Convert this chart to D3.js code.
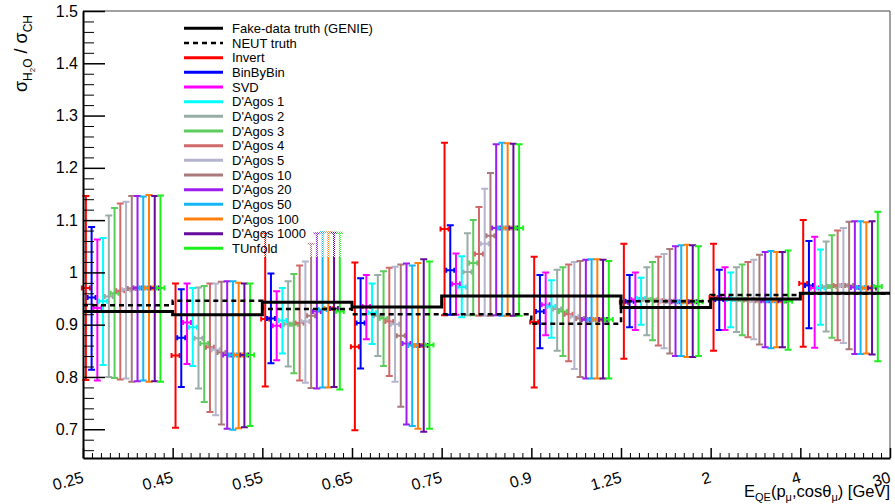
<!DOCTYPE html>
<html>
<head>
<meta charset="utf-8">
<script src="https://cdn.jsdelivr.net/npm/d3@7"></script>
<style>
body { margin: 0; background: #fff; }
text { font-family: "Liberation Sans", Arial, Helvetica, sans-serif; }
</style>
</head>
<body>
<script>
// bin edges of E_QE, drawn as 9 equal-width bins
var edgeLabels = ["0.25", "0.45", "0.55", "0.65", "0.75", "0.9", "1.25", "2", "4", "30"];

var genieTruth = [0.925, 0.919, 0.943, 0.934, 0.955, 0.955, 0.933, 0.949, 0.960];
var neutTruth  = [0.937, 0.946, 0.930, 0.920, 0.920, 0.902, 0.945, 0.957, 0.959];

var methods = ["Invert", "BinByBin", "SVD", "D'Agos 1", "D'Agos 2", "D'Agos 3", "D'Agos 4",
               "D'Agos 5", "D'Agos 10", "D'Agos 20", "D'Agos 50", "D'Agos 100", "D'Agos 1000", "TUnfold"];
var methodColors = ["#ff0000", "#0000ff", "#ff00ff", "#00ffff", "#97ada5", "#5ccc5c", "#d06a6a",
                    "#b4b4cc", "#a87a7a", "#9d1cf0", "#14b6f5", "#ff7f0e", "#650a9a", "#1ef01e"];

// one row per bin, one value per method
var central = [
  [0.970, 0.952, 0.932, 0.945, 0.954, 0.960, 0.965, 0.967, 0.969, 0.970, 0.970, 0.970, 0.970, 0.970],
  [0.841, 0.875, 0.904, 0.895, 0.874, 0.864, 0.857, 0.852, 0.847, 0.842, 0.842, 0.842, 0.842, 0.842],
  [0.911, 0.912, 0.898, 0.908, 0.901, 0.901, 0.903, 0.906, 0.917, 0.925, 0.929, 0.931, 0.931, 0.925],
  [0.858, 0.903, 0.935, 0.923, 0.917, 0.912, 0.906, 0.901, 0.879, 0.864, 0.860, 0.860, 0.860, 0.861],
  [1.083, 1.004, 0.978, 0.972, 1.001, 1.018, 1.035, 1.055, 1.070, 1.085, 1.085, 1.085, 1.085, 1.085],
  [0.905, 0.925, 0.938, 0.935, 0.930, 0.925, 0.920, 0.915, 0.912, 0.910, 0.910, 0.910, 0.910, 0.910],
  [0.943, 0.945, 0.948, 0.950, 0.948, 0.947, 0.946, 0.945, 0.945, 0.944, 0.944, 0.944, 0.944, 0.944],
  [0.952, 0.948, 0.950, 0.948, 0.948, 0.948, 0.947, 0.946, 0.946, 0.946, 0.946, 0.946, 0.946, 0.945],
  [0.979, 0.975, 0.970, 0.970, 0.973, 0.973, 0.975, 0.975, 0.975, 0.971, 0.971, 0.970, 0.970, 0.973]
];
var upper = [
  [1.146, 1.087, 1.063, 1.066, 1.109, 1.123, 1.132, 1.135, 1.146, 1.146, 1.145, 1.148, 1.146, 1.147],
  [0.979, 0.968, 0.979, 0.970, 0.971, 0.974, 0.979, 0.979, 0.982, 0.983, 0.983, 0.980, 0.979, 0.979],
  [1.075, 0.998, 0.964, 0.970, 0.983, 0.997, 1.013, 1.021, 1.055, 1.075, 1.077, 1.077, 1.076, 1.076],
  [1.019, 0.989, 0.995, 0.979, 0.995, 1.002, 1.009, 1.011, 1.015, 1.017, 1.013, 1.018, 1.025, 1.021],
  [1.248, 1.090, 1.036, 1.031, 1.075, 1.100, 1.125, 1.160, 1.190, 1.245, 1.248, 1.247, 1.246, 1.245],
  [1.030, 0.995, 1.000, 0.985, 1.005, 1.010, 1.015, 1.020, 1.022, 1.024, 1.025, 1.025, 1.024, 1.022],
  [1.055, 0.995, 1.000, 0.990, 1.010, 1.020, 1.030, 1.035, 1.045, 1.050, 1.052, 1.053, 1.052, 1.050],
  [1.055, 1.005, 1.010, 1.000, 1.010, 1.015, 1.020, 1.024, 1.034, 1.039, 1.041, 1.039, 1.039, 1.042],
  [1.100, 1.060, 1.068, 1.044, 1.059, 1.071, 1.080, 1.085, 1.097, 1.098, 1.098, 1.096, 1.098, 1.116]
];
var lower = [
  [0.794, 0.814, 0.793, 0.823, 0.800, 0.798, 0.795, 0.797, 0.791, 0.792, 0.793, 0.791, 0.792, 0.791],
  [0.703, 0.781, 0.825, 0.821, 0.778, 0.752, 0.733, 0.727, 0.709, 0.701, 0.699, 0.702, 0.704, 0.706],
  [0.782, 0.826, 0.832, 0.845, 0.820, 0.807, 0.793, 0.789, 0.779, 0.778, 0.780, 0.780, 0.781, 0.776],
  [0.698, 0.816, 0.872, 0.863, 0.840, 0.821, 0.802, 0.791, 0.743, 0.709, 0.706, 0.701, 0.695, 0.701],
  [0.918, 0.919, 0.919, 0.914, 0.918, 0.918, 0.917, 0.917, 0.917, 0.918, 0.917, 0.917, 0.917, 0.917],
  [0.780, 0.855, 0.880, 0.875, 0.850, 0.840, 0.830, 0.815, 0.800, 0.797, 0.797, 0.797, 0.797, 0.797],
  [0.835, 0.895, 0.890, 0.900, 0.880, 0.870, 0.860, 0.855, 0.845, 0.840, 0.840, 0.838, 0.838, 0.840],
  [0.850, 0.890, 0.890, 0.895, 0.886, 0.880, 0.876, 0.872, 0.862, 0.857, 0.855, 0.857, 0.857, 0.852],
  [0.858, 0.893, 0.856, 0.900, 0.887, 0.875, 0.870, 0.865, 0.853, 0.844, 0.844, 0.845, 0.843, 0.830]
];

var yMajor = [0.7, 0.8, 0.9, 1.0, 1.1, 1.2, 1.3, 1.4, 1.5];

var frame = {left: 83, right: 890, top: 11, bottom: 458};

var svg = d3.select("body").append("svg")
            .attr("width", 895)
            .attr("height", 504);

var x = d3.scaleLinear().domain([0, 9]).range([frame.left, frame.right]);
var y = d3.scaleLinear().domain([0.645, 1.5]).range([frame.bottom, frame.top]);

// checker pattern for the half-transparent legend fill
var defs = svg.append("defs");
var pat = defs.append("pattern")
              .attr("id", "chk")
              .attr("width", 2).attr("height", 2)
              .attr("patternUnits", "userSpaceOnUse");
pat.append("rect").attr("x", 0).attr("y", 0).attr("width", 1).attr("height", 1).attr("fill", "#fff");
pat.append("rect").attr("x", 1).attr("y", 1).attr("width", 1).attr("height", 1).attr("fill", "#fff");

// frame (top and right)
svg.append("path")
   .attr("d", "M" + frame.left + "," + frame.top + "H" + frame.right + "V" + frame.bottom)
   .attr("fill", "none")
   .attr("stroke", "#444")
   .attr("stroke-width", 1);

// error bars
var points = [];
central.forEach(function(row, b) {
  row.forEach(function(v, s) {
    points.push({bin: b, s: s, c: v, hi: upper[b][s], lo: lower[b][s]});
  });
});

var bars = svg.append("g").attr("id", "bars")
              .selectAll("g")
              .data(points)
              .enter()
              .append("g")
              .attr("stroke", function(d) { return methodColors[d.s]; })
              .attr("stroke-width", 2)
              .attr("fill", "none");

var px = function(d) { return x(d.bin + 0.032 + d.s * 0.064); };

bars.append("path")
    .attr("d", function(d) {
      var cx = px(d), t = y(d.hi), bt = y(d.lo), c = y(d.c);
      return "M" + cx + "," + t + "V" + bt +
             "M" + (cx - 3.5) + "," + t + "H" + (cx + 3.5) +
             "M" + (cx - 3.5) + "," + bt + "H" + (cx + 3.5) +
             "M" + (cx - 4) + "," + c + "H" + (cx + 4) +
             "M" + (cx - 4) + "," + (c - 2.5) + "V" + (c + 2.5) +
             "M" + (cx + 4) + "," + (c - 2.5) + "V" + (c + 2.5);
    });

// truth histograms
var stepLine = d3.line()
                 .x(function(d) { return x(d[0]); })
                 .y(function(d) { return y(d[1]); });

var steps = function(vals) {
  var pts = [];
  vals.forEach(function(v, i) { pts.push([i, v]); pts.push([i + 1, v]); });
  return pts;
};

svg.append("path")
   .attr("d", stepLine(steps(neutTruth)))
   .attr("fill", "none")
   .attr("stroke", "#000")
   .attr("stroke-width", 2.5)
   .attr("stroke-dasharray", "5,4");

svg.append("path")
   .attr("d", stepLine(steps(genieTruth)))
   .attr("fill", "none")
   .attr("stroke", "#000")
   .attr("stroke-width", 3);

// y axis
var yAxis = d3.axisLeft(y)
              .tickValues(yMajor)
              .tickFormat(function(d) { return d === 1 ? "1" : d3.format(".1f")(d); })
              .tickSize(-22)
              .tickSizeOuter(0)
              .tickPadding(5);
var yMinor = d3.axisLeft(y)
               .tickValues(d3.range(0.66, 1.5, 0.02).filter(function(v) {
                 return Math.abs(v * 10 - Math.round(v * 10)) > 0.01;
               }))
               .tickFormat("")
               .tickSize(-11)
               .tickSizeOuter(0);

var gy = svg.append("g").attr("transform", "translate(" + frame.left + ",0)").call(yAxis);
svg.append("g").attr("transform", "translate(" + frame.left + ",0)").call(yMinor)
   .select(".domain").remove();
gy.selectAll("text").attr("font-size", 16).attr("fill", "#000").attr("font-family", null);
gy.selectAll("line").attr("stroke", "#000").attr("stroke-width", 1.5);
gy.select(".domain").attr("stroke-width", 2);

// x axis
var xAxis = d3.axisBottom(x)
              .tickValues(d3.range(0, 10))
              .tickFormat(function(d) { return edgeLabels[d]; })
              .tickSize(-10)
              .tickSizeOuter(0);
var xMinor = d3.axisBottom(x)
               .tickValues(d3.range(0, 90).filter(function(v) { return v % 10 !== 0; })
                             .map(function(v) { return v / 10; }))
               .tickFormat("")
               .tickSize(-5)
               .tickSizeOuter(0);

var gx = svg.append("g").attr("transform", "translate(0," + frame.bottom + ")").call(xAxis);
svg.append("g").attr("transform", "translate(0," + frame.bottom + ")").call(xMinor)
   .select(".domain").remove();
gx.select(".domain").attr("stroke-width", 2);
gx.selectAll("line").attr("stroke", "#000").attr("stroke-width", 1.5);
gx.selectAll("text")
  .attr("font-size", 16)
  .attr("font-family", null)
  .attr("fill", "#000")
  .attr("text-anchor", "end")
  .attr("x", 0)
  .attr("y", 0)
  .attr("dy", 0)
  .attr("transform", "translate(1,24) rotate(-16)");

// axis titles
var xt = svg.append("text")
            .attr("x", frame.right)
            .attr("y", 497)
            .attr("text-anchor", "end")
            .attr("font-size", 16.5);
xt.append("tspan").text("E");
xt.append("tspan").attr("font-size", 11).attr("dy", 4).text("QE");
xt.append("tspan").attr("dy", -4).text("(p");
xt.append("tspan").attr("font-size", 11).attr("dy", 4).text("\u03bc");
xt.append("tspan").attr("dy", -4).text(",cos\u03b8");
xt.append("tspan").attr("font-size", 11).attr("dy", 4).text("\u03bc");
xt.append("tspan").attr("dy", -4).text(") [GeV]");

var yt = svg.append("text")
            .attr("transform", "translate(27,15) rotate(-90)")
            .attr("text-anchor", "end")
            .attr("font-size", 18);
yt.append("tspan").text("\u03c3");
yt.append("tspan").attr("font-size", 12).attr("dy", 5).text("H");
yt.append("tspan").attr("font-size", 8).attr("dy", 3).text("2");
yt.append("tspan").attr("font-size", 12).attr("dy", -3).text("O");
yt.append("tspan").attr("dy", -5).text(" / \u03c3");
yt.append("tspan").attr("font-size", 12).attr("dy", 5).text("CH");

// legend
var legendItems = [{name: "Fake-data truth (GENIE)", color: "#000", dash: null, w: 3},
                   {name: "NEUT truth", color: "#000", dash: "5,4", w: 2.5}];
methods.forEach(function(m, i) {
  legendItems.push({name: m, color: methodColors[i], dash: null, w: 3});
});

var legend = svg.append("g").attr("id", "legend");
legend.append("rect")
      .attr("x", 176).attr("y", 18)
      .attr("width", 226).attr("height", 239)
      .attr("fill", "url(#chk)");

var entries = legend.selectAll("g.entry")
                    .data(legendItems)
                    .enter()
                    .append("g")
                    .classed("entry", true)
                    .attr("transform", function(d, i) { return "translate(0," + (28.3 + i * 14.67) + ")"; });

entries.append("line")
       .attr("x1", 184).attr("x2", 223)
       .attr("stroke", function(d) { return d.color; })
       .attr("stroke-width", function(d) { return d.w; })
       .attr("stroke-dasharray", function(d) { return d.dash; });

entries.append("text")
       .attr("x", 232)
       .attr("dy", "0.36em")
       .attr("font-size", 13)
       .text(function(d) { return d.name; });
</script>
</body>
</html>
